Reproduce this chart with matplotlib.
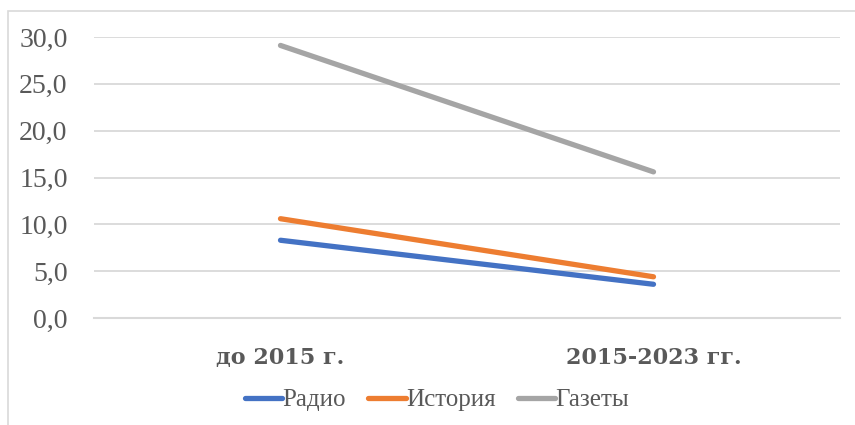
import matplotlib.pyplot as plt
from matplotlib.patches import Rectangle

categories = ['до 2015 г.', '2015-2023 гг.']
radio = [8.3, 3.6]
history = [10.6, 4.4]
newspapers = [29.1, 15.6]
series_names = ['Радио', 'История', 'Газеты']
colors = ['#4472C4', '#ED7D31', '#A5A5A5']
y_ticks = [0, 5, 10, 15, 20, 25, 30]

plt.rcParams['font.family'] = ['Liberation Serif', 'DejaVu Serif']
text_color = '#595959'

fig = plt.figure(figsize=(8.55, 4.25), dpi=100)
fig.patches.append(Rectangle((8 / 855, -0.1), 1.1, 1 - 11 / 425 + 0.1,
                             transform=fig.transFigure, fill=False,
                             edgecolor='#D9D9D9', linewidth=1.2))

ax = fig.add_axes([94 / 855, 1 - 318 / 425, 746 / 855, 281 / 425])
x = list(range(len(categories)))
for vals, name, c in zip([radio, history, newspapers], series_names, colors):
    ax.plot(x, vals, color=c, linewidth=3.8, solid_capstyle='round', label=name)

ax.set_xlim(-0.5, 1.5)
ax.set_ylim(0, 30)
ax.set_yticks(y_ticks)
ax.set_yticklabels([f'{v:.1f}'.replace('.', ',') for v in y_ticks],
                   fontsize=20, color=text_color)
ax.set_xticks(x)
ax.set_xticklabels(categories, fontsize=16, fontweight='bold', color=text_color,
                   family='DejaVu Serif')
ax.tick_params(axis='y', length=0, pad=19)
ax.tick_params(axis='x', length=0, pad=21)
ax.grid(axis='y', color='#D9D9D9', linewidth=1.3)
ax.set_axisbelow(True)
for s in ['top', 'right', 'left']:
    ax.spines[s].set_visible(False)
ax.spines['bottom'].set_color('#D9D9D9')
ax.spines['bottom'].set_linewidth(1.5)

leg = fig.legend(loc='center', bbox_to_anchor=(437 / 855, 1 - 400 / 425), ncol=3,
                 frameon=False, fontsize=18, handlelength=1.5, handletextpad=0.0,
                 columnspacing=0.9)
for t in leg.get_texts():
    t.set_color(text_color)

fig.savefig('out.png', dpi=100)
